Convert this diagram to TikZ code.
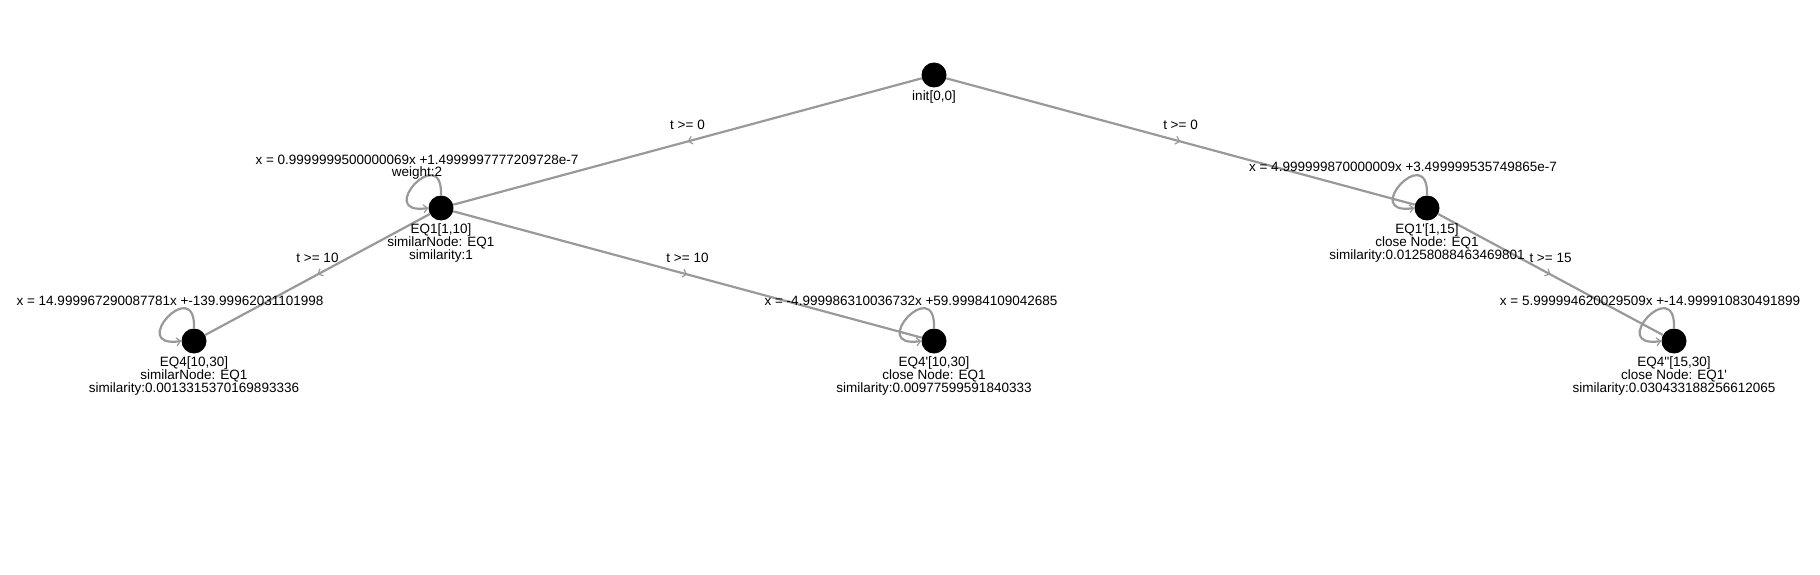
\documentclass[tikz,border=0pt]{standalone}
\usepackage{fontspec}
\setmainfont{Liberation Sans}
\usetikzlibrary{arrows.meta,decorations.markings}
\definecolor{edgegray}{RGB}{153,153,153}
\newcommand\apos{\textquotesingle}
\begin{document}
\begin{tikzpicture}[x=1pt,y=-1pt,
  vertex/.style={circle,fill=black,minimum size=25pt,inner sep=0pt},
  txt/.style={font=\fontsize{13.5}{13.3}\selectfont,inner sep=0pt,align=center,text=black},
  nodelabel/.style={txt,anchor=north},
  edgelabel/.style={txt,midway,yshift=16.5pt},
  conn/.style={draw=edgegray,line width=2.2pt,postaction={decorate},
    decoration={markings,mark=at position 0.5 with {\arrow[line width=1.2pt]{Straight Barb[length=4pt,width=8pt]}}}},
  selfloop/.style={draw=edgegray,line width=2.2pt,-{Straight Barb[length=4pt,width=8pt,line width=1.2pt]}}]
\useasboundingbox (0,0) rectangle (1820,575);

% vertices
\node[vertex] (init) at (934,75) {};
\node[vertex] (eq1) at (441,208) {};
\node[vertex] (eq1p) at (1427,208) {};
\node[vertex] (eq4) at (194,341) {};
\node[vertex] (eq4p) at (934,341) {};
\node[vertex] (eq4pp) at (1674,341) {};

% edges
\draw[conn] (init) -- node[edgelabel] (l0) {t >= 0} (eq1);
\draw[conn] (init) -- node[edgelabel] (l1) {t >= 0} (eq1p);
\draw[conn] (eq1) -- node[edgelabel] (l2) {t >= 10} (eq4);
\draw[conn] (eq1) -- node[edgelabel] (l3) {t >= 10} (eq4p);
\draw[conn] (eq1p) -- node[edgelabel] (l4) {t >= 15} (eq4pp);

% self loops
\foreach \n in {eq1,eq1p,eq4,eq4p,eq4pp}{
  \draw[selfloop] (\n.north) .. controls +(2pt,55pt) and +(-55pt,-8pt) .. (\n.west);
}

% loop labels
\node[txt,font=\fontsize{13.5}{12}\selectfont] (s1) at ([xshift=-24pt,yshift=41pt]eq1.center) {x = 0.9999999500000069x +1.4999997777209728e-7\\weight:2};
\node[txt] (s2) at ([xshift=-24pt,yshift=41pt]eq1p.center) {x = 4.999999870000009x +3.499999535749865e-7};
\node[txt] (s3) at ([xshift=-24pt,yshift=40pt]eq4.center) {x = 14.999967290087781x +-139.99962031101998};
\node[txt] (s4) at ([xshift=-23pt,yshift=40pt]eq4p.center) {x = -4.999986310036732x +59.99984109042685};
\node[txt] (s5) at ([xshift=-24pt,yshift=40pt]eq4pp.center) {x = 5.999994620029509x +-14.999910830491899};

% node labels
\node[nodelabel] (n0) at ([yshift=-2.5pt]init.south) {init[0,0]};
\node[nodelabel] (n1) at ([yshift=-2.5pt]eq1.south) {EQ1[1,10]\\similarNode: EQ1\\similarity:1};
\node[nodelabel] (n2) at ([yshift=-2.5pt]eq1p.south) {EQ1\apos[1,15]\\close Node: EQ1\\similarity:0.01258088463469801};
\node[nodelabel] (n3) at ([yshift=-2.5pt]eq4.south) {EQ4[10,30]\\similarNode: EQ1\\similarity:0.0013315370169893336};
\node[nodelabel] (n4) at ([yshift=-2.5pt]eq4p.south) {EQ4\apos[10,30]\\close Node: EQ1\\similarity:0.00977599591840333};
\node[nodelabel] (n5) at ([yshift=-2.5pt]eq4pp.south) {EQ4\apos\apos[15,30]\\close Node: EQ1\apos\\similarity:0.030433188256612065};
\end{tikzpicture}
\end{document}
